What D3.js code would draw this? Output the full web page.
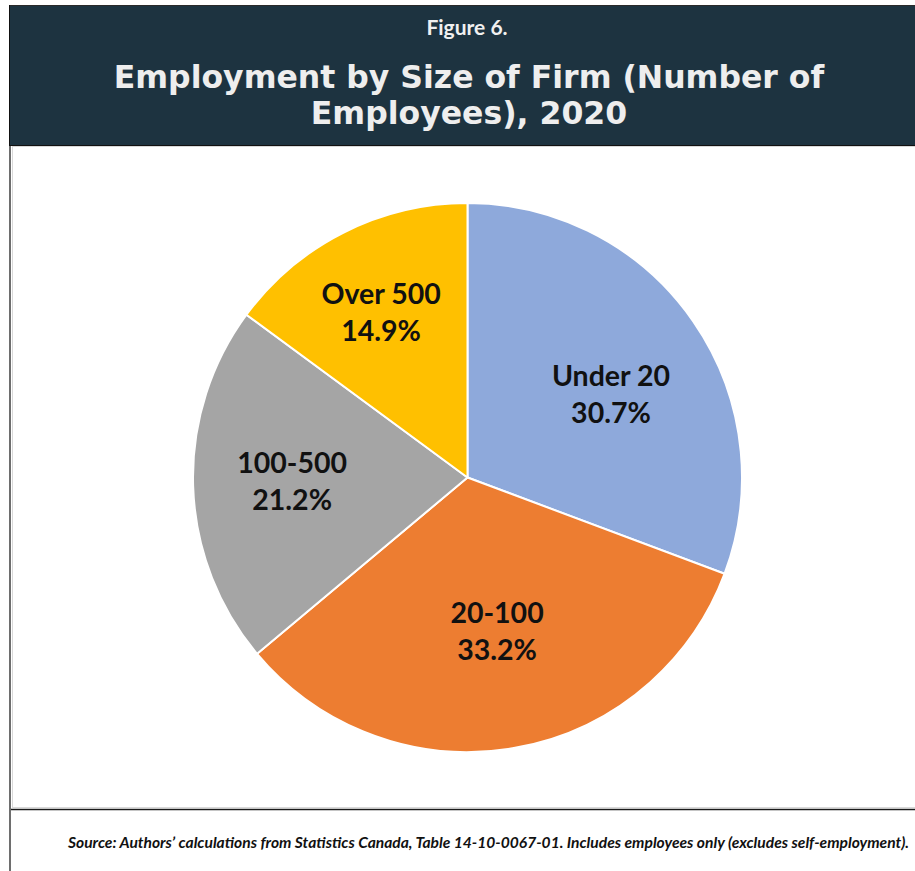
<!DOCTYPE html>
<html>
<head>
<meta charset="utf-8">
<script src="https://cdn.jsdelivr.net/npm/d3@7"></script>
<style>
  html, body { margin: 0; padding: 0; background: #ffffff; }
  svg { display: block; }
</style>
</head>
<body>
<svg id="chart" width="915" height="871"></svg>
<script>
// Employment share by firm size (number of employees), 2020
const categories = ["Under 20", "20-100", "100-500", "Over 500"];
const shares = [30.7, 33.2, 21.2, 14.9];
const sliceColors = ["#8EA9DB", "#ED7D31", "#A5A5A5", "#FFC000"];
const figureLabel = "Figure 6.";
const titleLines = ["Employment by Size of Firm (Number of", "Employees), 2020"];
const sourceNote = "Source: Authors\u2019 calculations from Statistics Canada, Table 14-10-0067-01. Includes employees only (excludes self-employment).";

const W = 915, H = 871;
const svg = d3.select("#chart");

// Header band
svg.append("rect").attr("x", 9).attr("y", 5).attr("width", W - 9).attr("height", 140)
  .attr("fill", "#1D3340");
svg.append("line").attr("x1", 9).attr("x2", W).attr("y1", 5.5).attr("y2", 5.5)
  .attr("stroke", "#2a2a2a").attr("stroke-width", 1);
svg.append("line").attr("x1", 9.5).attr("x2", 9.5).attr("y1", 5).attr("y2", 145)
  .attr("stroke", "#111").attr("stroke-width", 1);
svg.append("line").attr("x1", 9).attr("x2", W).attr("y1", 145.5).attr("y2", 145.5)
  .attr("stroke", "#111").attr("stroke-width", 1);

svg.append("text").attr("x", 467).attr("y", 35)
  .attr("text-anchor", "middle")
  .style("font-family", "Lato, sans-serif").style("font-weight", 700)
  .style("font-size", "21px").attr("fill", "#F0F0F0")
  .text(figureLabel);

svg.append("g").selectAll("text").data(titleLines).join("text")
  .attr("x", 469).attr("y", (d, i) => 88 + i * 36)
  .attr("text-anchor", "middle")
  .style("font-family", "'DejaVu Sans', sans-serif").style("font-weight", 700)
  .style("font-size", "31.5px")
  .attr("fill", "#EEEEEE")
  .text(d => d);

// Outer frame lines
svg.append("line").attr("x1", 10).attr("x2", 10).attr("y1", 146).attr("y2", H)
  .attr("stroke", "#6E6E6E").attr("stroke-width", 2);
// Chart area border (light)
svg.append("rect").attr("x", 12.5).attr("y", 146.5).attr("width", W).attr("height", 661)
  .attr("fill", "none").attr("stroke", "#D9D9D9").attr("stroke-width", 1);
svg.append("line").attr("x1", 11).attr("x2", W).attr("y1", 809.5).attr("y2", 809.5)
  .attr("stroke", "#1a1a1a").attr("stroke-width", 1.5);

// Pie
const cx = 467.5, cy = 477.5, R = 274.5;
const data = categories.map((c, i) => ({ category: c, value: shares[i], color: sliceColors[i] }));
const pie = d3.pie().value(d => d.value).sort(null);
const arcs = pie(data);
const arc = d3.arc().innerRadius(0).outerRadius(R);

const g = svg.append("g").attr("transform", `translate(${cx},${cy})`);
g.selectAll("path").data(arcs).join("path")
  .attr("d", arc)
  .attr("fill", d => d.data.color)
  .attr("stroke", "#ffffff").attr("stroke-width", 2).attr("stroke-linejoin", "round");

// Label placement per slice: distance from centre (fraction of radius)
// and a small angular nudge (degrees) away from the slice's mid-angle
const labelRadiusFrac = [0.605, 0.568, 0.639, 0.681];
const labelAngleNudge = [4.5, -1.2, 0.5, -0.7];
const labels = g.selectAll("g.lbl").data(arcs).join("g").attr("class", "lbl")
  .attr("transform", (d, i) => {
    const a = (d.startAngle + d.endAngle) / 2 + labelAngleNudge[i] * Math.PI / 180;
    const r = R * labelRadiusFrac[i];
    return `translate(${r * Math.sin(a)},${-r * Math.cos(a)})`;
  });
labels.selectAll("text")
  .data(d => [d.data.category, d3.format(".1f")(d.data.value) + "%"])
  .join("text")
  .attr("text-anchor", "middle")
  .attr("y", (d, i) => i === 0 ? -8 : 29)
  .style("font-family", "Lato, sans-serif").style("font-weight", 700)
  .style("font-size", "28.5px").attr("fill", "#111111")
  .text(d => d);

// Source note
svg.append("text").attr("x", 68).attr("y", 848)
  .style("font-family", "Lato, sans-serif").style("font-weight", 700).style("font-style", "italic")
  .style("font-size", "15.6px").attr("fill", "#111111")
  .text(sourceNote);
</script>
</body>
</html>
